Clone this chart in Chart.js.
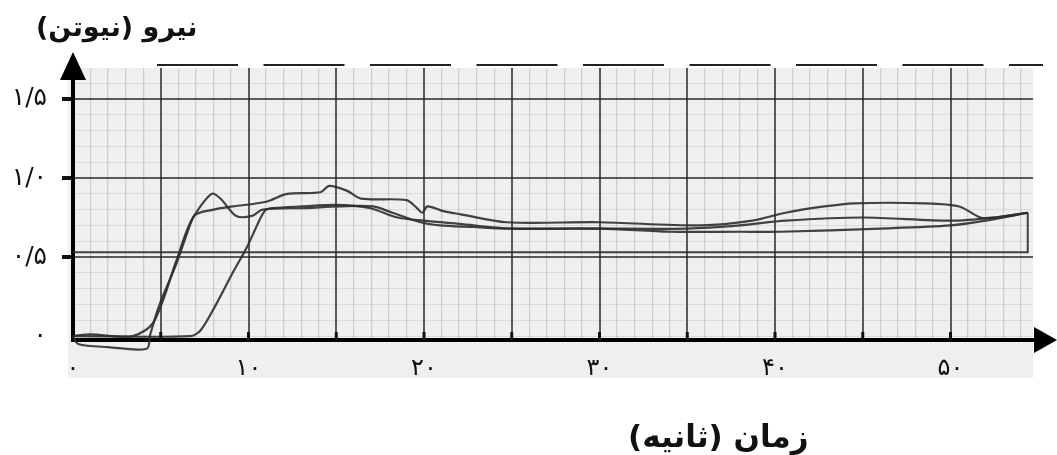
<!DOCTYPE html>
<html>
<head>
<meta charset="utf-8">
<script src="https://cdn.jsdelivr.net/npm/chart.js@4.4.0/dist/chart.umd.min.js"></script>
<style>
  html, body { margin: 0; padding: 0; background: #fff; }
  #wrap { position: relative; width: 1057px; height: 455px; }
  #forceChart { position: absolute; left: 0; top: 0; }
  .axis-title {
    position: absolute;
    direction: rtl;
    font-family: "DejaVu Sans", sans-serif;
    font-weight: bold;
    color: #111;
    white-space: nowrap;
  }
</style>
</head>
<body>
<div id="wrap">
  <canvas id="forceChart" width="1057" height="455"></canvas>
  <div class="axis-title" id="y-title" style="left:36px; top:11px; font-size:27px;">نیرو (نیوتن)</div>
  <div class="axis-title" id="x-title" style="left:628px; top:418px; font-size:31px;">زمان (ثانیه)</div>
</div>
<script>
// tick labels (Persian digits, "/" as decimal separator)
const xTickValues = [0, 10, 20, 30, 40, 50];
const xTickLabels = ["۰", "۱۰", "۲۰", "۳۰", "۴۰", "۵۰"];
const yTickValues = [0, 0.5, 1, 1.5];
const yTickLabels = ["۰", "۰/۵", "۱/۰", "۱/۵"];

// trace 1 - early rise with a peak around 8 s
const timeA  = [0, 0.3, 2, 4.2, 4.4, 4.9, 5.9, 6.5, 6.9, 7.9, 8.4, 9.3, 10.2, 10.8, 13.3, 15.2, 17.1, 18.2, 19.8, 20.9, 22.8, 24.7, 30, 34, 38, 40.3, 46, 50, 52, 54.4];
const forceA = [0, -0.05, -0.07, -0.08, 0.01, 0.19, 0.46, 0.65, 0.76, 0.90, 0.87, 0.76, 0.76, 0.80, 0.81, 0.82, 0.82, 0.78, 0.72, 0.70, 0.69, 0.68, 0.68, 0.66, 0.66, 0.66, 0.68, 0.70, 0.73, 0.78];

// trace 2 - early rise, highest around 15 s
const timeB  = [0, 1, 3.4, 4.6, 5.9, 6.9, 8.0, 9.1, 11.0, 12.2, 14.1, 14.6, 15.6, 16.4, 19.0, 19.6, 19.9, 20.2, 21.1, 22.1, 24.7, 30, 35.8, 38.7, 40.6, 42.8, 44.5, 48.5, 50.5, 51.7, 52.5, 54.4];
const forceB = [0, 0.01, 0, 0.09, 0.48, 0.76, 0.80, 0.82, 0.85, 0.90, 0.91, 0.95, 0.92, 0.87, 0.86, 0.81, 0.78, 0.82, 0.79, 0.77, 0.72, 0.72, 0.70, 0.73, 0.78, 0.82, 0.84, 0.84, 0.82, 0.75, 0.75, 0.78];

// trace 3 - late rise
const timeC  = [0, 6.7, 7.3, 8.2, 9.1, 9.9, 10.7, 11.0, 11.4, 13, 15, 16.9, 18.5, 20, 22, 25, 30, 35, 38, 40.6, 45, 50, 52.5, 54.4];
const forceC = [0, 0, 0.04, 0.21, 0.40, 0.56, 0.75, 0.80, 0.81, 0.82, 0.83, 0.81, 0.75, 0.73, 0.71, 0.68, 0.68, 0.68, 0.70, 0.73, 0.75, 0.73, 0.75, 0.78];

// pen return line near 0.5
const timeR  = [0, 54.4, 54.4];
const forceR = [0.53, 0.53, 0.78];

const toPoints = (ts, fs) => ts.map((t, i) => ({ x: t, y: fs[i] }));

// graph paper grid positions: every second, every 0.1 N
const xGrid = [];
for (let s = 0; s <= 54; s++) xGrid.push(s);
const yGrid = [];
for (let k = 0; k <= 16; k++) yGrid.push(k / 10);

const near = (a, b) => Math.abs(a - b) < 1e-6;
const isHalf = v => v > 0 && near(v * 2, Math.round(v * 2));

// paper background, top dashes, small marks and arrow heads
const paperPlugin = {
  id: "paper",
  beforeDraw(chart) {
    const { ctx, chartArea } = chart;
    ctx.save();
    ctx.fillStyle = "#efefef";
    ctx.fillRect(chartArea.left - 5, chartArea.top, chartArea.right - chartArea.left + 5, 378 - chartArea.top);
    ctx.restore();
  },
  afterDraw(chart) {
    const { ctx, chartArea, scales } = chart;
    const x = scales.x;
    ctx.save();
    // dashed line along the top of the paper
    ctx.strokeStyle = "#222";
    ctx.lineWidth = 2;
    ctx.setLineDash([81, 25.5]);
    ctx.beginPath();
    ctx.moveTo(157, chartArea.top - 3);
    ctx.lineTo(1043, chartArea.top - 3);
    ctx.stroke();
    ctx.setLineDash([]);

    // small marks every 5 s above the time axis
    ctx.strokeStyle = "#111";
    ctx.lineWidth = 3;
    for (let s = 5; s <= 54; s += 5) {
      const px = x.getPixelForValue(s);
      ctx.beginPath();
      ctx.moveTo(px, chartArea.bottom - 8);
      ctx.lineTo(px, chartArea.bottom);
      ctx.stroke();
    }

    // axis extensions and arrow heads
    ctx.fillStyle = "#000";
    ctx.strokeStyle = "#000";
    ctx.lineWidth = 4;
    ctx.beginPath();
    ctx.moveTo(chartArea.left, chartArea.top);
    ctx.lineTo(chartArea.left, 76);
    ctx.moveTo(chartArea.right, chartArea.bottom);
    ctx.lineTo(1040, chartArea.bottom);
    ctx.stroke();

    ctx.beginPath();
    ctx.moveTo(chartArea.left, 52);
    ctx.lineTo(chartArea.left - 13, 80);
    ctx.lineTo(chartArea.left + 13, 80);
    ctx.closePath();
    ctx.fill();

    ctx.beginPath();
    ctx.moveTo(1057, chartArea.bottom);
    ctx.lineTo(1034, chartArea.bottom - 13);
    ctx.lineTo(1034, chartArea.bottom + 13);
    ctx.closePath();
    ctx.fill();
    ctx.restore();
  }
};

const traceStyle = {
  borderColor: "rgba(45,45,45,0.9)",
  borderWidth: 2.2,
  pointRadius: 0,
  tension: 0.3,
  fill: false,
  clip: false
};

new Chart(document.getElementById("forceChart"), {
  type: "line",
  data: {
    datasets: [
      { label: "A", data: toPoints(timeA, forceA), ...traceStyle },
      { label: "B", data: toPoints(timeB, forceB), ...traceStyle },
      { label: "C", data: toPoints(timeC, forceC), ...traceStyle },
      { label: "R", data: toPoints(timeR, forceR), ...traceStyle, tension: 0, borderWidth: 2 }
    ]
  },
  options: {
    responsive: false,
    animation: false,
    layout: { padding: { top: 68, right: 24, bottom: 0, left: 0 } },
    plugins: { legend: { display: false }, tooltip: { enabled: false } },
    scales: {
      x: {
        type: "linear",
        min: 0,
        max: 54.7,
        afterBuildTicks: scale => { scale.ticks = xGrid.map(v => ({ value: v })); },
        afterFit: scale => { scale.height = 115; },
        ticks: {
          autoSkip: false,
          maxRotation: 0,
          padding: 14,
          color: "#111",
          font: { family: "DejaVu Sans", size: 24 },
          callback: v => {
            const i = xTickValues.findIndex(t => near(t, v));
            return i >= 0 ? xTickLabels[i] : "";
          }
        },
        grid: {
          drawTicks: false,
          color: c => (c.tick && c.tick.value % 5 === 0 ? "rgba(40,40,40,0.75)" : "rgba(90,90,90,0.22)"),
          lineWidth: c => (c.tick && c.tick.value % 5 === 0 ? 2 : 1.3)
        },
        border: { display: true, color: "#000", width: 4 }
      },
      y: {
        type: "linear",
        min: -0.025,
        max: 1.696,
        afterBuildTicks: scale => { scale.ticks = yGrid.map(v => ({ value: v })); },
        afterFit: scale => { scale.width = 73; },
        ticks: {
          autoSkip: false,
          padding: 15,
          color: "#111",
          font: { family: "DejaVu Sans", size: 25 },
          callback: v => {
            const i = yTickValues.findIndex(t => near(t, v));
            return i >= 0 ? yTickLabels[i] : "";
          }
        },
        grid: {
          tickLength: 11,
          tickWidth: 4,
          tickColor: c => (c.tick && isHalf(c.tick.value) ? "#111" : "rgba(0,0,0,0)"),
          color: c => (c.tick && isHalf(c.tick.value) ? "rgba(40,40,40,0.75)" : "rgba(90,90,90,0.13)"),
          lineWidth: c => (c.tick && isHalf(c.tick.value) ? 2 : 1)
        },
        border: { display: true, color: "#000", width: 4 }
      }
    }
  },
  plugins: [paperPlugin]
});
</script>
</body>
</html>
